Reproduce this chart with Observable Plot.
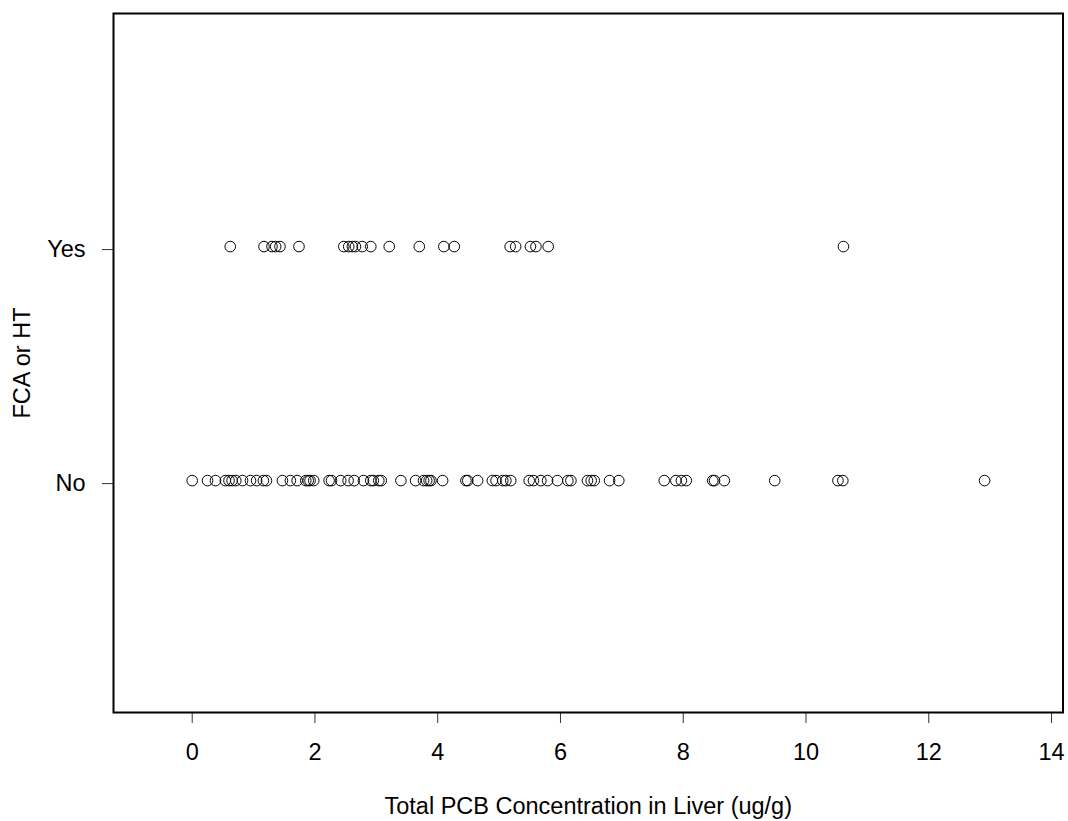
<!DOCTYPE html>
<html>
<head>
<meta charset="utf-8">
<script src="https://cdn.jsdelivr.net/npm/d3@7"></script>
<script src="https://cdn.jsdelivr.net/npm/@observablehq/plot@0.6"></script>
<style>
  html, body { margin: 0; padding: 0; background: #fff; }
  #chart svg { display: block; }
</style>
</head>
<body>
<div id="chart"></div>
<script>
// Outcome groups (0 = No, 1 = Yes)
const categories = ["No", "Yes"];

// Total PCB concentration in liver (ug/g), fish without lesions
const noValues = [
  0.00, 0.25, 0.38, 0.54, 0.60, 0.65, 0.71, 0.82, 0.95, 1.05, 1.16, 1.21,
  1.47, 1.60, 1.71, 1.85, 1.89, 1.92, 1.98, 2.23, 2.27, 2.42, 2.54, 2.64,
  2.79, 2.91, 2.95, 3.04, 3.08, 3.40, 3.64, 3.77, 3.82, 3.86, 3.89, 4.08,
  4.46, 4.49, 4.65, 4.89, 4.95, 5.06, 5.11, 5.19, 5.49, 5.56, 5.68, 5.79,
  5.95, 6.12, 6.17, 6.44, 6.50, 6.55, 6.80, 6.95, 7.69, 7.88, 7.97, 8.05,
  8.48, 8.51, 8.67, 9.49, 10.52, 10.60, 12.91
];

// Total PCB concentration in liver (ug/g), fish with FCA or HT
const yesValues = [
  0.62, 1.17, 1.30, 1.36, 1.43, 1.74, 2.47, 2.55, 2.61, 2.66, 2.77, 2.91,
  3.21, 3.70, 4.10, 4.27, 5.18, 5.27, 5.51, 5.60, 5.80, 10.61
];

const xTicks = [0, 2, 4, 6, 8, 10, 12, 14];
const yTicks = [0, 1];

const rows = [
  ...noValues.map(v => ({pcb: v, group: 0})),
  ...yesValues.map(v => ({pcb: v, group: 1}))
];

const font = "'Liberation Sans', Arial, Helvetica, sans-serif";
const fs = 23.5;

const chart = Plot.plot({
  width: 1068,
  height: 821,
  marginLeft: 113,
  marginRight: 5.5,
  marginTop: 13,
  marginBottom: 109,
  style: {fontFamily: font, fontSize: fs + "px", background: "#fff", color: "#000"},
  x: {domain: [-1.282, 14.187]},
  y: {domain: [-0.991, 1.996]},
  marks: [
    Plot.axisX({
      ticks: xTicks, tickSize: 11, tickPadding: 20, stroke: "#333",
      fontSize: fs, label: null
    }),
    Plot.axisY({
      ticks: yTicks, tickSize: 11, tickPadding: 17, stroke: "#333",
      tickFormat: d => categories[d], fontSize: fs, dy: 3, label: null
    }),
    Plot.dot(rows, {
      x: "pcb", y: "group", r: 5.3, stroke: "#000", strokeWidth: 1, fill: "none"
    }),
    Plot.frame({stroke: "#000", strokeWidth: 2}),
    // axis titles
    Plot.text(["Total PCB Concentration in Liver (ug/g)"], {
      frameAnchor: "bottom", textAnchor: "middle", lineAnchor: "middle",
      dy: 94, fontSize: fs, fill: "#000"
    }),
    Plot.text(["FCA or HT"], {
      frameAnchor: "left", textAnchor: "middle", lineAnchor: "middle",
      dx: -91, rotate: -90, fontSize: fs, fill: "#000"
    })
  ]
});

document.getElementById("chart").appendChild(chart);
</script>
</body>
</html>
